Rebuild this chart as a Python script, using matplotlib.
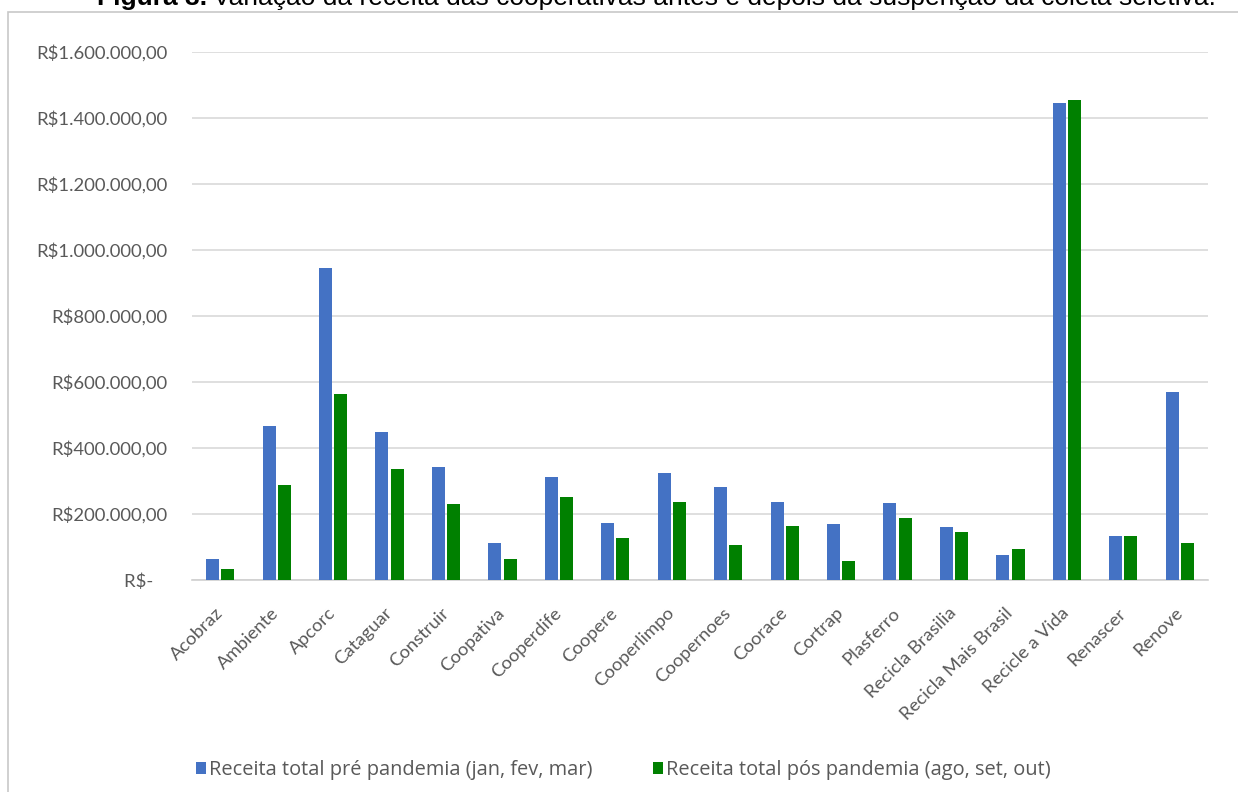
import matplotlib
matplotlib.use("Agg")
import matplotlib.pyplot as plt
import numpy as np
from matplotlib.patches import Rectangle

# cooperativas e receitas (R$)
cooperativas = ["Acobraz", "Ambiente", "Apcorc", "Cataguar", "Construir", "Coopativa",
                "Cooperdife", "Coopere", "Cooperlimpo", "Coopernoes", "Coorace", "Cortrap",
                "Plasferro", "Recicla Brasilia", "Recicla Mais Brasil", "Recicle a Vida",
                "Renascer", "Renove"]
receita_pre = [64000, 467000, 945000, 448000, 343000, 112000,
               312000, 173000, 324000, 282000, 237000, 170000,
               233000, 161000, 76000, 1445000, 133000, 570000]
receita_pos = [33000, 288000, 563000, 337000, 231000, 64000,
               251000, 127000, 237000, 106000, 163000, 58000,
               188000, 146000, 94000, 1454000, 133000, 112000]
y_ticks = [0, 200000, 400000, 600000, 800000, 1000000, 1200000, 1400000, 1600000]

label_pre = "Receita total pré pandemia (jan, fev, mar)"
label_pos = "Receita total pós pandemia (ago, set, out)"

plt.rcParams['font.family'] = ['Lato', 'DejaVu Sans']

W, H = 1238, 792
fig = plt.figure(figsize=(W / 100, H / 100), dpi=100)
ax = fig.add_axes([192 / W, 1 - 580 / H, (1208 - 192) / W, (580 - 52) / H])

x = np.arange(len(cooperativas))
bw = 0.23
ax.bar(x - 0.135, receita_pre, bw, color="#4472C4", label=label_pre, zorder=3)
ax.bar(x + 0.135, receita_pos, bw, color="#008000", label=label_pos, zorder=3)

ax.set_xlim(-0.5, len(cooperativas) - 0.5)
ax.set_ylim(0, 1600000)


def brl(v):
    if v == 0:
        return "R$-   "
    s = f"{v:,.2f}".replace(",", "X").replace(".", ",").replace("X", ".")
    return "R$" + s


ax.set_yticks(y_ticks)
ax.set_yticklabels([brl(v) for v in y_ticks])
ax.set_xticks(x)
ax.set_xticklabels(cooperativas, rotation=45, ha="right", va="center",
                   rotation_mode="anchor")

ax.tick_params(axis="y", length=0, pad=18, labelsize=13.3, labelcolor="#595959")
ax.tick_params(axis="x", length=0, pad=22, labelsize=13.3, labelcolor="#595959")

ax.grid(axis="y", color="#d9d9d9", lw=1.2, zorder=0)
for s in ["top", "right", "left"]:
    ax.spines[s].set_visible(False)
ax.spines["bottom"].set_color("#d0d0d0")
ax.spines["bottom"].set_linewidth(1.2)
ax.set_axisbelow(True)

# moldura do grafico (cortada pela borda)
fig.patches.append(Rectangle((8 / W, -0.1), 1.2, 1 - 12 / H + 0.1, transform=fig.transFigure,
                             fill=False, edgecolor="#c8c8c8", lw=1.2))

# legenda
h, l = ax.get_legend_handles_labels()
leg = fig.legend(h, l, ncol=2, loc="center left", bbox_to_anchor=(178 / W, 1 - 770 / H),
                 frameon=False, prop={"family": "Open Sans", "size": 14.4},
                 handlelength=0.5, handleheight=0.5, handletextpad=0.15,
                 columnspacing=3.0, labelcolor="#595959")

# titulo (cortado no topo)
fig.canvas.draw()
r = fig.canvas.get_renderer()
t1 = fig.text(97 / W, 1 - 5 / H, "Figura 3.", fontsize=19, fontweight="bold",
              family="Liberation Sans", va="baseline", ha="left")
bb = t1.get_window_extent(r)
fig.text((bb.x1 + 6) / W, 1 - 5 / H,
         "Variação da receita das cooperativas antes e depois da suspenção da coleta seletiva.",
         fontsize=19, family="Liberation Sans", va="baseline", ha="left")

fig.savefig("out.png", dpi=100)
